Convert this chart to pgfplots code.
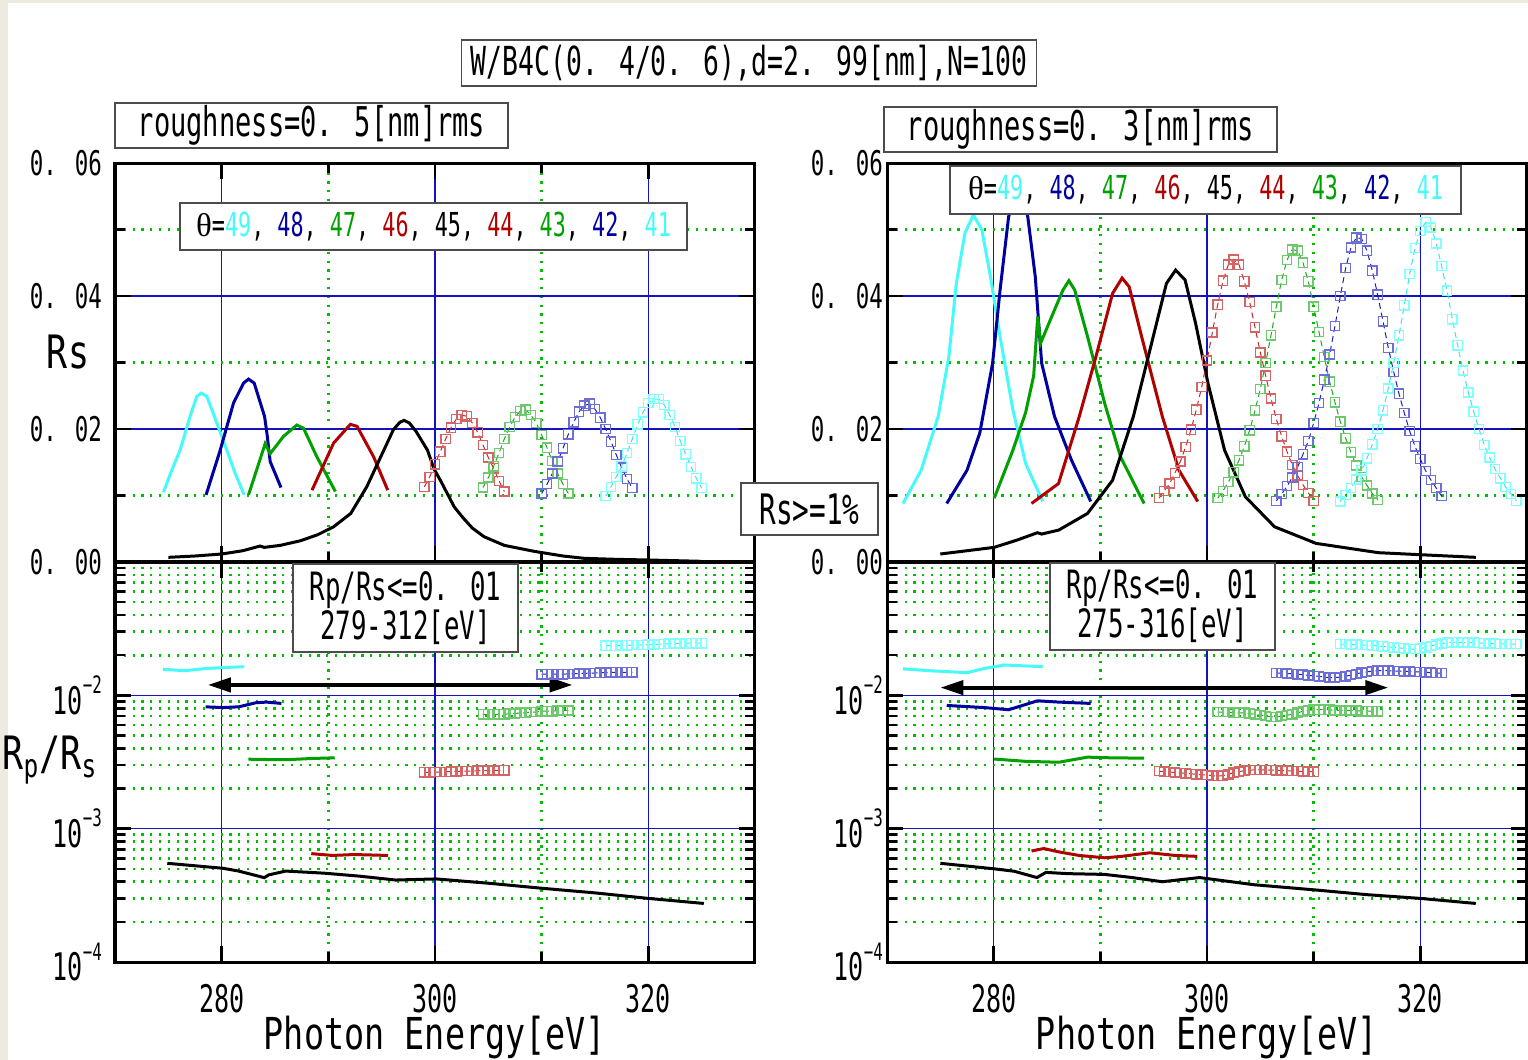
\documentclass[border=0pt]{standalone}
\usepackage{fontspec}
\setmainfont{DejaVu Sans Mono}[FakeStretch=0.66]
\newfontfamily\lblfont{DejaVu Sans Mono}[FakeStretch=0.76]
\newfontfamily\grserif{Liberation Serif}
\usepackage{pgfplots}
\pgfplotsset{compat=1.18}
\usetikzlibrary{arrows.meta}
\newcommand\fs[1]{\fontsize{#1}{#1}\selectfont}
\definecolor{bgbeige}{RGB}{237,235,224}
\definecolor{gblue}{RGB}{20,20,190}
\definecolor{ggreen}{RGB}{0,190,0}
\definecolor{ccyan}{RGB}{70,250,250}
\definecolor{cblue}{RGB}{0,0,160}
\definecolor{cgreen}{RGB}{0,160,0}
\definecolor{cred}{RGB}{176,0,0}
\definecolor{mred}{RGB}{215,100,100}\definecolor{lred}{RGB}{200,40,40}
\definecolor{mgreen}{RGB}{110,200,110}\definecolor{lgreen}{RGB}{30,170,30}
\definecolor{mblue}{RGB}{110,110,215}\definecolor{lblue}{RGB}{30,30,190}
\definecolor{mcyan}{RGB}{130,255,255}\definecolor{lcyan}{RGB}{60,230,230}
\newcommand\thetatext{{\grserif θ}=\textcolor{ccyan}{49}, \textcolor{cblue}{48}, \textcolor{cgreen}{47}, \textcolor{cred}{46}, 45, \textcolor{cred}{44}, \textcolor{cgreen}{43}, \textcolor{cblue}{42}, \textcolor{ccyan}{41}}
\newcommand\tsup[1]{\raisebox{0.55em}{\fs{12}#1}}
% frame tick marks (axis decoration), as small filled bars at the axes' tick positions
\newcommand\xtk[3]{%
 \foreach \ka/\la in {1/8,2/5,3/8,4/5,5/8}{%
  \pgfmathsetmacro\xa{#1+53.3333*\ka-0.65}%
  \pgfmathsetmacro\xb{\xa+1.3}%
  \pgfmathsetmacro\ya{#2+\la}%
  \pgfmathsetmacro\yb{#3-\la}%
  \fill[black] (\xa pt,#2pt) rectangle (\xb pt,\ya pt);%
  \fill[black] (\xa pt,#3pt) rectangle (\xb pt,\yb pt);}}
\newcommand\ytk[5]{%
 \foreach \fa/\la in #5{%
  \pgfmathsetmacro\yy{#3+#4*\fa}%
  \pgfmathsetmacro\ya{\yy-0.65}%
  \pgfmathsetmacro\yb{\yy+0.65}%
  \pgfmathsetmacro\xr{#1+\la}%
  \pgfmathsetmacro\xl{#2-\la}%
  \fill[black] (#1pt,\ya pt) rectangle (\xr pt,\yb pt);%
  \fill[black] (\xl pt,\ya pt) rectangle (#2pt,\yb pt);}}
\newcommand\toplist{0.16667/5,0.33333/8,0.5/5,0.66667/8,0.83333/5}
\newcommand\botlist{0.33333/8,0.66667/8,0.10034/5,0.15904/5,0.20069/5,0.23299/5,0.25938/5,0.28170/5,0.30103/5,0.31808/5,0.43367/5,0.49237/5,0.53402/5,0.56632/5,0.59271/5,0.61503/5,0.63436/5,0.65141/5,0.76701/5,0.82571/5,0.86736/5,0.89966/5,0.92605/5,0.94837/5,0.96770/5,0.98475/5}
\pgfplotsset{
 myBase/.style={
  scale only axis, width=320pt, xmin=270, xmax=330,
  xtick={280,300,320}, minor xtick={290,310},
  tick align=inside, major tick length=0pt, minor tick length=0pt,
  scaled x ticks=false, scaled y ticks=false,
  axis line style={black, line width=1.5pt},
 },
 myGrid/.style={myBase, grid=both,
  major grid style={gblue, line width=0.7pt, solid},
  minor grid style={ggreen, line width=1.3pt, dash pattern=on 1.1pt off 3.3pt},
  xticklabels={}, yticklabels={}},
 myFrame/.style={myBase,
  yticklabel style={font=\fs{17}},
  xticklabel style={font=\fs{19}, inner sep=0pt, anchor=north, yshift=-11pt}},
 topY/.style={height=199.5pt, ymin=0, ymax=0.06,
  ytick={0,0.02,0.04,0.06}, minor ytick={0.01,0.03,0.05}},
 botY/.style={height=200pt, ymin=1e-4, ymax=1e-1,
  ytick={1e-4,1e-3,1e-2,1e-1},
  minor ytick={2e-4,3e-4,4e-4,5e-4,6e-4,7e-4,8e-4,9e-4,2e-3,3e-3,4e-3,5e-3,6e-3,7e-3,8e-3,9e-3,2e-2,3e-2,4e-2,5e-2,6e-2,7e-2,8e-2,9e-2}},
 topLab/.style={yticklabels={0. 00,0. 02,0. 04,0. 06}, xticklabels={,,}},
 botLab/.style={yticklabels={10\tsup{−4},10\tsup{−3},10\tsup{−2},{}},
  yticklabel style={font=\fs{19}},
  xticklabels={280,300,320},
  xlabel={Photon Energy[eV]},
  xlabel style={at={(axis description cs:0.5,0)}, anchor=base, inner sep=0pt, yshift=-43.5pt, font=\lblfont\fs{22}}},
 mySol/.style={color=#1, line width=1.5pt, no marks},
 mySq/.style 2 args={color=#1, line width=0.5pt, dash pattern=on 3pt off 2pt, mark=square, mark size=2.3pt, mark options={solid, draw=#2, line width=0.7pt}},
 myArr/.style={black, line width=2pt, {Triangle[length=11.5pt,width=7pt]}-{Triangle[length=11.5pt,width=7pt]}},
}
\tikzset{box/.style={draw=black!70, line width=0.8pt, fill=white, inner sep=0pt}}
\begin{document}
\begin{tikzpicture}
\useasboundingbox (0,0) rectangle (764pt,-530pt);
\fill[bgbeige] (0,0) rectangle (764pt,-530pt);
\fill[white] (4pt,-1.5pt) rectangle (764pt,-530pt);

% ---------------- left top ----------------
\begin{axis}[myGrid, topY, at={(57.5pt,-81.5pt)}, anchor=north west]
\addplot[mySol=ccyan] coordinates {(274.54,0.0105) (275.32,0.0138) (276.10,0.0168) (277.04,0.0219) (277.67,0.0249) (278.08,0.0254) (278.61,0.0249) (279.55,0.0209) (280.49,0.0168) (281.27,0.0133) (282.11,0.0101)};
\addplot[mySol=cblue] coordinates {(278.54,0.0101) (279.86,0.0168) (281.11,0.0239) (282.05,0.0269) (282.52,0.0275) (283.05,0.0269) (284.02,0.0219) (284.24,0.0194) (284.55,0.0151) (285.56,0.0112)};
\addplot[mySol=cgreen] coordinates {(282.52,0.0101) (284.08,0.0178) (284.55,0.0163) (285.8,0.0189) (287.05,0.0206) (287.68,0.0201) (288.93,0.0158) (290.66,0.0106)};
\addplot[mySol=cred] coordinates {(288.47,0.0108) (290.5,0.0179) (292.07,0.0207) (292.69,0.0204) (294.25,0.0158) (295.57,0.0108)};
\addplot[mySol=black] coordinates {(275.0,0.0007) (277.5,0.0009) (280.0,0.0012) (282.0,0.0017) (283.6,0.0024) (284.0,0.0022) (285.5,0.0025) (287.4,0.0032) (289.0,0.0041) (290.5,0.0053) (292.1,0.0073) (293.6,0.0113) (295.2,0.0168) (296.1,0.0199) (296.7,0.0210) (297.1,0.0213) (297.6,0.0209) (298.2,0.0197) (299.3,0.0168) (299.9,0.0140) (300.5,0.0123) (301.8,0.0083) (302.6,0.0067) (303.5,0.0051) (304.6,0.0038) (306.5,0.0025) (309.3,0.0016) (312,0.0009) (314,0.00055) (317,0.0004) (320,0.0003) (325,0.0001)};
\addplot[mySq={lred}{mred}] coordinates {(299,0.0113) (299.5,0.0128) (300,0.0147) (300.5,0.0166) (301,0.0185) (301.5,0.0202) (302,0.0215) (302.5,0.0221) (303,0.0219) (303.5,0.0209) (304,0.0195) (304.5,0.0176) (305,0.0157) (305.5,0.0141) (306,0.0122) (306.5,0.0106)};
\addplot[mySq={lgreen}{mgreen}] coordinates {(304.5,0.0112) (305,0.0127) (305.5,0.0144) (306,0.0164) (306.5,0.0185) (307,0.0203) (307.5,0.0218) (308,0.0227) (308.5,0.0229) (309,0.0221) (309.5,0.0209) (310,0.0191) (310.5,0.0172) (311,0.0152) (311.5,0.0133) (312,0.0117) (312.5,0.0103)};
\addplot[mySq={lblue}{mblue}] coordinates {(310,0.0103) (310.5,0.0117) (311,0.0133) (311.5,0.0151) (312,0.0171) (312.5,0.0192) (313,0.0210) (313.5,0.0226) (314,0.0235) (314.5,0.0238) (315,0.0230) (315.5,0.0217) (316,0.0200) (316.5,0.0181) (317,0.0161) (317.5,0.0142) (318,0.0125) (318.5,0.0111)};
\addplot[mySq={lcyan}{mcyan}] coordinates {(316,0.0099) (316.5,0.0113) (317,0.0128) (317.5,0.0144) (318,0.0164) (318.5,0.0185) (319,0.0207) (319.5,0.0225) (320,0.0239) (320.5,0.0245) (321,0.0245) (321.5,0.0236) (322,0.0221) (322.5,0.0203) (323,0.0182) (323.5,0.0162) (324,0.0143) (324.5,0.0126) (325,0.0111)};
\end{axis}
\begin{axis}[myFrame, topY, topLab, at={(57.5pt,-81.5pt)}, anchor=north west,
  yticklabel style={xshift=-3pt},
  ylabel={Rs}, every axis y label/.style={at={(axis description cs:-0.0734,0.526)}, anchor=center, font=\lblfont\fs{23}}]
\end{axis}

% ---------------- left bottom ----------------
\begin{axis}[ymode=log, myGrid, botY, at={(57.5pt,-281pt)}, anchor=north west]
\addplot[mySol=ccyan] coordinates {(274.5,0.0157) (276.5,0.0153) (278.5,0.0159) (280.5,0.0162) (282.1,0.0164)};
\addplot[mySol=cblue] coordinates {(278.5,0.0082) (280.1,0.0081) (281.6,0.0082) (283.2,0.0088) (284.2,0.0089) (285.6,0.0087)};
\addplot[mySol=cgreen] coordinates {(282.5,0.00332) (284.5,0.0033) (286.4,0.0033) (288.4,0.00336) (290.6,0.0034)};
\addplot[mySol=cred] coordinates {(288.4,0.00065) (290.4,0.00063) (292.4,0.00064) (295.6,0.00063)};
\addplot[mySol=black] coordinates {(274.9,0.00055) (280.1,0.000505) (281.6,0.000481) (284.0,0.000429) (284.4,0.00045) (286.0,0.000481) (289.6,0.000464) (293,0.00044) (296.3,0.000412) (300.1,0.00042) (305,0.00039) (310.1,0.000357) (315,0.00033) (320.0,0.0003) (325.2,0.000275)};
\addplot[mySq={lred}{mred}] coordinates {(299,0.00265) (299.5,0.00265) (300,0.00266) (300.5,0.00266) (301,0.00267) (301.5,0.00268) (302,0.00269) (302.5,0.0027) (303,0.0027) (303.5,0.00271) (304,0.00272) (304.5,0.00272) (305,0.00273) (305.5,0.00273) (306,0.00274) (306.5,0.00274)};
\addplot[mySq={lgreen}{mgreen}] coordinates {(304.5,0.0072) (305,0.0072) (305.5,0.0072) (306,0.0072) (306.5,0.0072) (307,0.0073) (307.5,0.0073) (308,0.0074) (308.5,0.0074) (309,0.0075) (309.5,0.0075) (310,0.0076) (310.5,0.0076) (311,0.0076) (311.5,0.0077) (312,0.0077) (312.5,0.0077)};
\addplot[mySq={lblue}{mblue}] coordinates {(310,0.0144) (310.5,0.0144) (311,0.0144) (311.5,0.0144) (312,0.0144) (312.5,0.0145) (313,0.0145) (313.5,0.0146) (314,0.0146) (314.5,0.0147) (315,0.0147) (315.5,0.0148) (316,0.0148) (316.5,0.0149) (317,0.0149) (317.5,0.0149) (318,0.0149) (318.5,0.0149)};
\addplot[mySq={lcyan}{mcyan}] coordinates {(316,0.0236) (316.5,0.0236) (317,0.0236) (317.5,0.0237) (318,0.0237) (318.5,0.0238) (319,0.0238) (319.5,0.0239) (320,0.0240) (320.5,0.0241) (321,0.0242) (321.5,0.0243) (322,0.0244) (322.5,0.0245) (323,0.0245) (323.5,0.0246) (324,0.0246) (324.5,0.0246) (325,0.0246)};
\addplot[myArr] coordinates {(278.7,0.01197) (312.9,0.01197)};
\end{axis}
\begin{axis}[ymode=log, myFrame, botY, botLab, at={(57.5pt,-281pt)}, anchor=north west,
  yticklabel style={xshift=-3pt},
  ylabel={R\textsubscript{p}/R\textsubscript{s}}, every axis y label/.style={at={(axis description cs:-0.1016,0.505)}, anchor=center, font=\lblfont\fs{23}}]
\end{axis}

% ---------------- right top ----------------
\begin{axis}[myGrid, topY, at={(443.5pt,-81.5pt)}, anchor=north west]
\addplot[mySol=ccyan] coordinates {(271.5,0.0088) (273.2,0.0138) (274.8,0.0219) (275.8,0.0309) (276.5,0.0419) (277.3,0.0494) (278.1,0.0522) (278.9,0.0499) (279.7,0.0429) (280.6,0.0339) (281.8,0.0229) (283.0,0.0148) (284.6,0.0091)};
\addplot[mySol=cblue] coordinates {(275.6,0.0088) (277.5,0.0138) (278.7,0.0194) (279.9,0.0299) (280.6,0.0409) (281.4,0.0519) (282.2,0.0565) (282.6,0.0563) (283.2,0.0519) (283.9,0.0429) (284.5,0.0299) (285.7,0.0219) (287.3,0.0153) (289.1,0.0091)};
\addplot[mySol=cgreen] coordinates {(280.05,0.0096) (281.8,0.0168) (283.0,0.0225) (283.75,0.0280) (284.13,0.0369) (284.4,0.0329) (285.7,0.0379) (286.5,0.0409) (287.05,0.0423) (287.6,0.0409) (288.8,0.0339) (290.4,0.0239) (291.9,0.0158) (294.1,0.0088)};
\addplot[mySol=cred] coordinates {(283.55,0.0088) (286.08,0.0118) (288.03,0.0219) (289.59,0.0309) (291.15,0.0404) (292.04,0.0427) (292.7,0.0414) (293.87,0.0339) (295.81,0.0219) (297.37,0.0138) (299.13,0.0091)};
\addplot[mySol=black] coordinates {(275.0,0.0012) (280.05,0.0022) (282.2,0.0033) (284.1,0.0044) (284.5,0.0042) (286.1,0.0048) (288.8,0.0073) (291.15,0.0123) (293.1,0.0219) (294.65,0.0319) (296.2,0.0419) (297.06,0.0439) (297.95,0.0424) (298.93,0.0359) (300.09,0.0269) (301.65,0.0168) (303.6,0.0098) (306.33,0.0053) (310.22,0.0028) (316.06,0.0014) (319.95,0.0011) (325.2,0.0007)};
\addplot[mySq={lred}{mred}] coordinates {(295.5,0.0096) (296,0.0107) (296.5,0.0118) (297,0.0134) (297.5,0.0151) (298,0.0173) (298.5,0.0199) (299,0.0229) (299.5,0.0263) (300,0.0303) (300.5,0.0345) (301,0.0387) (301.5,0.0423) (302,0.0447) (302.5,0.0455) (303,0.0447) (303.5,0.0422) (304,0.0391) (304.5,0.0353) (305,0.0315) (305.5,0.0280) (306,0.0246) (306.5,0.0215) (307,0.0189) (307.5,0.0166) (308,0.0146) (308.5,0.0130) (309,0.0116) (309.5,0.0104) (310,0.0092)};
\addplot[mySq={lgreen}{mgreen}] coordinates {(301,0.0096) (301.5,0.0107) (302,0.0120) (302.5,0.0135) (303,0.0153) (303.5,0.0174) (304,0.0198) (304.5,0.0228) (305,0.0260) (305.5,0.0299) (306,0.0341) (306.5,0.0384) (307,0.0424) (307.5,0.0454) (308,0.0470) (308.5,0.0468) (309,0.0450) (309.5,0.0422) (310,0.0384) (310.5,0.0346) (311,0.0308) (311.5,0.0271) (312,0.0240) (312.5,0.0211) (313,0.0186) (313.5,0.0165) (314,0.0145) (314.5,0.0128) (315,0.0115) (315.5,0.0103) (316,0.0093)};
\addplot[mySq={lblue}{mblue}] coordinates {(306.5,0.0092) (307,0.0102) (307.5,0.0114) (308,0.0127) (308.5,0.0143) (309,0.0162) (309.5,0.0182) (310,0.0209) (310.5,0.0239) (311,0.0274) (311.5,0.0312) (312,0.0355) (312.5,0.0400) (313,0.0442) (313.5,0.0473) (314,0.0488) (314.5,0.0486) (315,0.0468) (315.5,0.0438) (316,0.0402) (316.5,0.0362) (317,0.0322) (317.5,0.0286) (318,0.0253) (318.5,0.0224) (319,0.0197) (319.5,0.0174) (320,0.0155) (320.5,0.0137) (321,0.0123) (321.5,0.0111) (322,0.0099)};
\addplot[mySq={lcyan}{mcyan}] coordinates {(312.5,0.0091) (313,0.0101) (313.5,0.0111) (314,0.0124) (314.5,0.0138) (315,0.0156) (315.5,0.0177) (316,0.0200) (316.5,0.0228) (317,0.0261) (317.5,0.0299) (318,0.0341) (318.5,0.0386) (319,0.0433) (319.5,0.0472) (320,0.0498) (320.5,0.0511) (321,0.0503) (321.5,0.0479) (322,0.0445) (322.5,0.0408) (323,0.0365) (323.5,0.0326) (324,0.0288) (324.5,0.0255) (325,0.0226) (325.5,0.0200) (326,0.0176) (326.5,0.0157) (327,0.0140) (327.5,0.0126) (328,0.0113) (328.5,0.0102) (329,0.0092)};
\end{axis}
\begin{axis}[myFrame, topY, topLab, at={(443.5pt,-81.5pt)}, anchor=north west, yticklabel style={xshift=1.5pt}]
\end{axis}

% ---------------- right bottom ----------------
\begin{axis}[ymode=log, myGrid, botY, at={(443.5pt,-281pt)}, anchor=north west]
\addplot[mySol=ccyan] coordinates {(271.5,0.0158) (274.0,0.0153) (277.5,0.0148) (279.1,0.0159) (281.0,0.0169) (284.6,0.0164)};
\addplot[mySol=cblue] coordinates {(275.6,0.0084) (279.1,0.0081) (281.4,0.0078) (282.5,0.0083) (284.1,0.0091) (286.1,0.0089) (289.1,0.0087)};
\addplot[mySol=cgreen] coordinates {(280.05,0.00333) (283.0,0.0032) (286.1,0.00315) (288.8,0.00344) (291.0,0.0034) (294.1,0.00338)};
\addplot[mySol=cred] coordinates {(283.55,0.00068) (284.7,0.00071) (286.1,0.00067) (288,0.00063) (290.4,0.000605) (292,0.00062) (294.65,0.00066) (297,0.00063) (299.1,0.00062)};
\addplot[mySol=black] coordinates {(275.0,0.00055) (280.05,0.0005) (281.9,0.00048) (284.06,0.00043) (284.9,0.00047) (287,0.00046) (290.4,0.000454) (293,0.00043) (295.8,0.0004) (299.3,0.00043) (304.4,0.00038) (310.2,0.000347) (315,0.00032) (320,0.0003) (325.2,0.000275)};
\addplot[mySq={lred}{mred}] coordinates {(295.5,0.00270) (296,0.00268) (296.5,0.00266) (297,0.00264) (297.5,0.00262) (298,0.00260) (298.5,0.00258) (299,0.00256) (299.5,0.00254) (300,0.00252) (300.5,0.00250) (301,0.00248) (301.5,0.00250) (302,0.00256) (302.5,0.00263) (303,0.00268) (303.5,0.00272) (304,0.00275) (304.5,0.00276) (305,0.00276) (305.5,0.00276) (306,0.00275) (306.5,0.00274) (307,0.00273) (307.5,0.00272) (308,0.00271) (308.5,0.00270) (309,0.00269) (309.5,0.00268) (310,0.00268)};
\addplot[mySq={lgreen}{mgreen}] coordinates {(301,0.0075) (301.5,0.0075) (302,0.0075) (302.5,0.0074) (303,0.0074) (303.5,0.0074) (304,0.0073) (304.5,0.0072) (305,0.0071) (305.5,0.0070) (306,0.0069) (306.5,0.0069) (307,0.0070) (307.5,0.0071) (308,0.0072) (308.5,0.0074) (309,0.0076) (309.5,0.0077) (310,0.0078) (310.5,0.0078) (311,0.0078) (311.5,0.0078) (312,0.0077) (312.5,0.0077) (313,0.0077) (313.5,0.0077) (314,0.0077) (314.5,0.0076) (315,0.0076) (315.5,0.0076) (316,0.0076)};
\addplot[mySq={lblue}{mblue}] coordinates {(306.5,0.0147) (307,0.0147) (307.5,0.0146) (308,0.0145) (308.5,0.0144) (309,0.0143) (309.5,0.0141) (310,0.0140) (310.5,0.0139) (311,0.0137) (311.5,0.0136) (312,0.0136) (312.5,0.0137) (313,0.0139) (313.5,0.0142) (314,0.0145) (314.5,0.0148) (315,0.0150) (315.5,0.0152) (316,0.0153) (316.5,0.0153) (317,0.0153) (317.5,0.0152) (318,0.0152) (318.5,0.0151) (319,0.0151) (319.5,0.0150) (320,0.0150) (320.5,0.0149) (321,0.0148) (321.5,0.0147) (322,0.0147)};
\addplot[mySq={lcyan}{mcyan}] coordinates {(312.5,0.0242) (313,0.0242) (313.5,0.0241) (314,0.0240) (314.5,0.0239) (315,0.0238) (315.5,0.0236) (316,0.0235) (316.5,0.0233) (317,0.0231) (317.5,0.0229) (318,0.0227) (318.5,0.0225) (319,0.0223) (319.5,0.0222) (320,0.0224) (320.5,0.0229) (321,0.0235) (321.5,0.0240) (322,0.0245) (322.5,0.0248) (323,0.0250) (323.5,0.0250) (324,0.0249) (324.5,0.0249) (325,0.0248) (325.5,0.0247) (326,0.0246) (326.5,0.0245) (327,0.0244) (327.5,0.0243) (328,0.0243) (328.5,0.0242) (329,0.0242)};
\addplot[myArr] coordinates {(275.0,0.01143) (317.0,0.01143)};
\end{axis}
\begin{axis}[ymode=log, myFrame, botY, botLab, at={(443.5pt,-281pt)}, anchor=north west, yticklabel style={xshift=1.5pt}]
\end{axis}

% ---------------- frame tick marks ----------------
\xtk{57.5}{-281}{-81.5}
\xtk{57.5}{-481}{-281}
\xtk{443.5}{-281}{-81.5}
\xtk{443.5}{-481}{-281}
\ytk{57.5}{377.5}{-281}{199.5}{\toplist}
\ytk{443.5}{763.5}{-281}{199.5}{\toplist}
\ytk{57.5}{377.5}{-481}{200}{\botlist}
\ytk{443.5}{763.5}{-481}{200}{\botlist}

% ---------------- boxes ----------------
\node[box, minimum width=287.5pt, minimum height=23pt, font=\fs{20}] at (374.5pt,-31.5pt) {W/B4C(0. 4/0. 6),d=2. 99[nm],N=100};
\node[box, minimum width=196.5pt, minimum height=22.5pt, font=\fs{20.5}] at (155.75pt,-62.75pt) {roughness=0. 5[nm]rms};
\node[box, minimum width=196.5pt, minimum height=22.5pt, font=\fs{20.5}] at (540.25pt,-64.75pt) {roughness=0. 3[nm]rms};
\node[box, minimum width=253.5pt, minimum height=23.5pt, font=\fs{16.5}] at (216.75pt,-113.25pt) {\thetatext};
\node[box, minimum width=255.5pt, minimum height=24pt, font=\fs{16.5}] at (602.75pt,-95pt) {\thetatext};
\node[box, minimum width=68.5pt, minimum height=26pt, font=\fs{21}] at (404.75pt,-254.5pt) {Rs>=1\%};
\node[box, minimum width=112.5pt, minimum height=44pt, align=center, font=\fs{19.5}] at (202.75pt,-304pt) {Rp/Rs<=0. 01\\279-312[eV]};
\node[box, minimum width=112.5pt, minimum height=43.5pt, align=center, font=\fs{19.5}] at (581.25pt,-303.25pt) {Rp/Rs<=0. 01\\275-316[eV]};
\end{tikzpicture}
\end{document}
